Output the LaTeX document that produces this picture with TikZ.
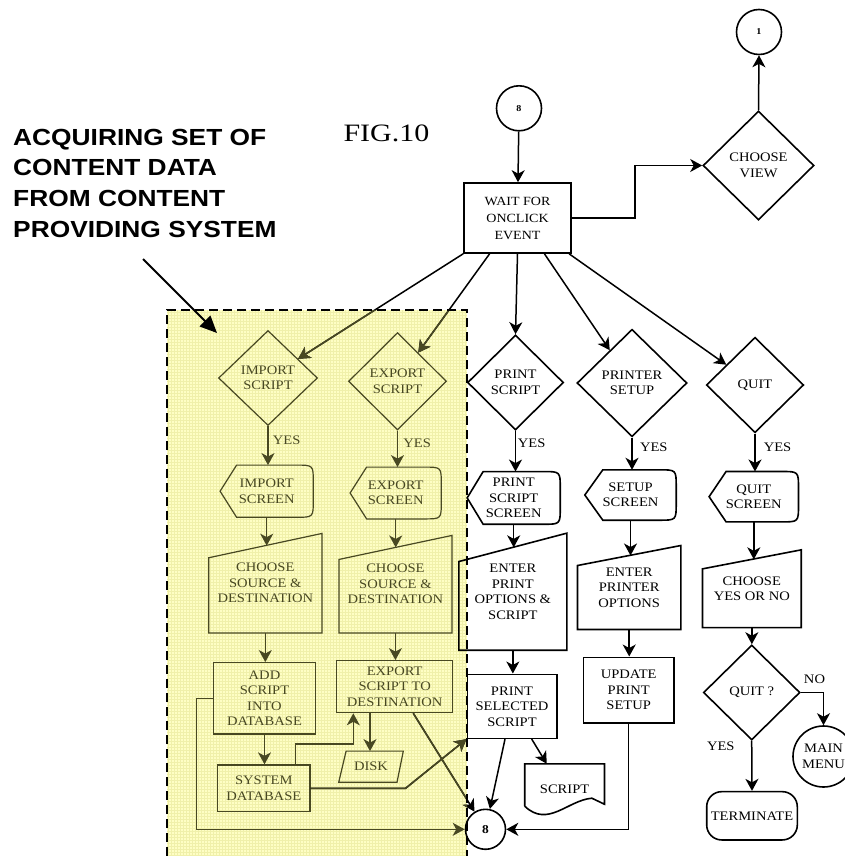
\documentclass[tikz,border=0pt]{standalone}
\usepackage{fontspec}
\setmainfont{Liberation Serif}
\newfontfamily\dgfont[FakeStretch=1.12]{Liberation Serif}
\newfontfamily\headfont[FakeStretch=1.13]{Liberation Sans}
\newfontfamily\figfont[FakeStretch=1.2]{Liberation Serif}
\usetikzlibrary{shapes.geometric,arrows.meta,calc}
\definecolor{oliv}{RGB}{72,72,34}
\definecolor{yfill}{RGB}{254,254,196}
\definecolor{ygrid}{RGB}{240,240,170}
\newcommand{\dispshape}[3]{\draw[shp,#1] (#2.west) -- ($(#2.north west)+(#3,0)$) -- ($(#2.north east)+(-17,0)$) .. controls (#2.north east) .. ($(#2.north east)+(0,17)$) -- ($(#2.south east)+(0,-17)$) .. controls (#2.south east) .. ($(#2.south east)+(-17,0)$) -- ($(#2.south west)+(#3,0)$) -- cycle;}
\newcommand{\manshape}[3]{\draw[shp,#1] (#2.south west) -- ($(#2.north west)+(0,#3)$) -- (#2.north east) -- (#2.south east) -- cycle;}
\tikzset{
  txt/.style={inner sep=0pt, align=center, font=\dgfont\fontsize{13}{15.5}\selectfont},
  shp/.style={line width=1.6pt},
  bx/.style={txt, draw, rectangle, shp},
  dia/.style={txt, draw, diamond, aspect=1, shp},
  circ/.style={txt, draw, circle, shp},
  con/.style={line width=1.5pt, -{Stealth[length=12pt,width=13pt,inset=3.5pt]}},
  olv/.style={color=oliv, text=oliv, line width=1.2pt},
  head/.style={anchor=base west, inner sep=0pt, font=\headfont\bfseries\fontsize{23.3}{28}\selectfont},
}
\begin{document}
\begin{tikzpicture}[x=1pt,y=-1pt]
\useasboundingbox (0,0) rectangle (845,856);
% yellow highlighted region
\fill[yfill] (167,310) rectangle (467,870);
\draw[ygrid, line width=0.3pt, step=3pt] (167,310) grid (467,870);

% heading and figure title
\node[head] (h1) at (13,145) {ACQUIRING SET OF};
\node[head] (h2) at (13,175.7) {CONTENT DATA};
\node[head] (h3) at (13,206.4) {FROM CONTENT};
\node[head] (h4) at (13,237) {PROVIDING SYSTEM};
\node[anchor=base west, inner sep=0pt, font=\figfont\fontsize{25}{30}\selectfont] (fig) at (343.3,141.7) {FIG.10};
\coordinate (ha) at (143,259);
\coordinate (hb) at (217,333);
\draw[line width=1.8pt, -{Triangle[length=17pt,width=15pt]}] (ha) -- (hb);

% top part
\node[circ, minimum size=45pt, font=\dgfont\bfseries\fontsize{9}{10}\selectfont] (c1) at (759,32) {1};
\node[circ, minimum size=45pt, font=\dgfont\bfseries\fontsize{9}{10}\selectfont] (c8t) at (519,108.3) {8};
\node[bx, minimum width=107pt, minimum height=70pt, font=\dgfont\fontsize{12.5}{17}\selectfont] (wait) at (517.5,218) {WAIT FOR\\ONCLICK\\EVENT};
\node[dia, minimum width=111pt, minimum height=109pt] (view) at (758.5,165.5) {CHOOSE\\VIEW};

% yellow region nodes
\node[dia, olv, minimum width=99pt, minimum height=95pt] (imp) at (268,378) {IMPORT\\SCRIPT};
\node[dia, olv, minimum width=98pt, minimum height=97.4pt] (exp) at (397.5,381.3) {EXPORT\\SCRIPT};
\node[txt, olv, minimum width=92pt, minimum height=51pt] (iscr) at (266.7,491.2) {IMPORT\\SCREEN};
\dispshape{olv}{iscr}{16.5}
\node[txt, olv, minimum width=90pt, minimum height=50.6pt] (escr) at (395.7,493) {EXPORT\\SCREEN};
\dispshape{olv}{escr}{16.5}
\node[txt, olv, minimum width=112pt, minimum height=98.3pt] (ich) at (265.3,583.2) {CHOOSE\\SOURCE \&\\DESTINATION};
\manshape{olv}{ich}{24.3}
\node[txt, olv, minimum width=111.8pt, minimum height=96.3pt] (ech) at (395.4,584.2) {CHOOSE\\SOURCE \&\\DESTINATION};
\manshape{olv}{ech}{24}
\node[bx, olv, minimum width=102.4pt, minimum height=71.3pt] (add) at (264.5,698.3) {ADD\\SCRIPT\\INTO\\DATABASE};
\node[bx, olv, minimum width=92.3pt, minimum height=46.7pt] (sdb) at (263.8,788.3) {SYSTEM\\DATABASE};
\node[bx, olv, minimum width=116pt, minimum height=52pt] (ets) at (394.7,686.7) {EXPORT\\SCRIPT TO\\DESTINATION};
\node[txt, olv, minimum width=63.4pt, minimum height=30pt] (disk) at (371,766.7) {DISK};
\draw[shp, olv] (disk.south west) -- ($(disk.north west)+(7.4,0)$) -- (disk.north east) -- ($(disk.south east)+(-6.3,0)$) -- cycle;
\node[txt, olv] (y1) at (286.7,440.5) {YES};
\node[txt, olv] (y2) at (417.2,443.5) {YES};

% black nodes
\node[dia, minimum width=96pt, minimum height=95pt] (pr) at (515.5,382.5) {PRINT\\SCRIPT};
\node[dia, minimum width=110pt, minimum height=107.4pt] (ps) at (632,383) {PRINTER\\SETUP};
\node[dia, minimum width=97.4pt, minimum height=95.4pt] (quit) at (755,385) {QUIT};
\node[txt, minimum width=92.7pt, minimum height=52.3pt] (prs) at (513.7,497.9) {PRINT\\SCRIPT\\SCREEN};
\dispshape{black}{prs}{16}
\node[txt, minimum width=91pt, minimum height=50pt] (sus) at (630.5,495) {SETUP\\SCREEN};
\dispshape{black}{sus}{18}
\node[txt, minimum width=89pt, minimum height=50pt] (qs) at (753.8,496.7) {QUIT\\SCREEN};
\dispshape{black}{qs}{17}
\node[txt, minimum width=107.7pt, minimum height=116.7pt] (epo) at (512.85,591.7) {ENTER\\PRINT\\OPTIONS \&\\SCRIPT};
\manshape{black}{epo}{28.4}
\node[txt, minimum width=103pt, minimum height=83.6pt] (epr) at (629.2,587.5) {ENTER\\PRINTER\\OPTIONS};
\manshape{black}{epr}{20}
\node[txt, minimum width=98.3pt, minimum height=77.3pt] (cyn) at (751.85,588.7) {CHOOSE\\YES OR NO};
\manshape{black}{cyn}{19}
\node[bx, minimum width=89.4pt, minimum height=64pt] (pss) at (512,706.3) {PRINT\\SELECTED\\SCRIPT};
\node[bx, minimum width=90.7pt, minimum height=65.4pt] (ups) at (628.7,690) {UPDATE\\PRINT\\SETUP};
\node[txt, minimum width=79.3pt, minimum height=42pt, text height=16pt, text depth=0pt] (scr) at (564.6,785) {SCRIPT};
\draw[shp] (scr.south west) -- (scr.north west) -- (scr.north east) -- ($(scr.south east)+(0,-2)$) -- ($(scr.south east)+(-12.6,-8)$) .. controls ($(scr.south west)+(43,-6)$) and ($(scr.south west)+(23,22)$) .. (scr.south west);
\node[dia, minimum width=96.6pt, minimum height=95pt] (qq) at (751.7,692.5) {QUIT ?};
\node[bx, rounded corners=15pt, minimum width=90.6pt, minimum height=48.3pt] (term) at (752,815.8) {TERMINATE};
\node[circ, minimum size=61pt] (mm) at (823.5,756.5) {MAIN\\MENU};
\node[circ, minimum size=40pt, font=\dgfont\bfseries\fontsize{12}{13}\selectfont] (c8b) at (485.5,829.3) {8};
\node[txt] (y3) at (531.7,443.7) {YES};
\node[txt] (y4) at (653.8,447.5) {YES};
\node[txt] (y5) at (777.5,447.3) {YES};
\node[txt] (y6) at (720.8,746.7) {YES};
\node[txt] (no1) at (814.5,679.2) {NO};

% named points for connectors
\coordinate (w2) at ($(wait.south west)!0.243!(wait.south east)$);
\coordinate (w4) at ($(wait.south west)!0.748!(wait.south east)$);
\coordinate (w5) at ($(wait.south west)!0.975!(wait.south east)$);
\coordinate (etsd) at ($(ets.south)+(-24.7,0)$);
\coordinate (etsu) at ($(ets.south)+(-41.4,0)$);
\coordinate (etsr) at ($(ets.south)+(18.6,0)$);
\coordinate (sdbu) at ($(sdb.north)+(32,0)$);
\coordinate (pssl) at ($(pss.south)+(-7,0)$);
\coordinate (pssr) at ($(pss.south)+(19.7,0)$);

% black connectors
\draw[con] (c8t) -- (wait);
\draw[con] (wait.east) -- ++(63,0) |- (view.west);
\draw[con] (view.north) -- (c1.south);
\draw[con] (wait.south west) -- (imp);
\draw[con] (w2) -- (exp);
\draw[con] (wait.south) -- (pr.north);
\draw[con] (w4) -- (ps);
\draw[con] (w5) -- (quit);
\draw[con] (pr.south) -- (pr.south |- prs.north);
\draw[con] (prs.south) -- ($(prs.south |- epo.north)+(0,14.2)$);
\draw[con] (epo.south) -- (epo.south |- pss.north);
\draw[con] (pssl) -- (c8b);
\draw[con] (pssr) -- ($(scr.north west)+(22,0)$);
\draw[con] (ps.south) -- (ps.south |- sus.north);
\draw[con] (sus.south) -- ($(sus.south |- epr.north)+(0,10)$);
\draw[con] (epr.south) -- (epr.south |- ups.north);
\draw[con] (ups.south) |- (c8b.east);
\draw[con] (quit.south) -- (quit.south |- qs.north);
\draw[con] (qs.south) -- ($(qs.south |- cyn.north)+(0,9.5)$);
\draw[con] (cyn.south) -- (cyn.south |- qq.north);
\draw[con] (qq.east) -| (mm.north);
\draw[con] (qq.south) -- (term.north);
\draw[con] (sdb.east) -- ++(95,0) -- (pss.south west);
\draw[con] (etsr) -- (c8b);

% olive parts inside the highlighted region
\begin{scope}
\clip (167,310) rectangle (467,870);
\draw[con, olv, line width=1.5pt] (wait.south west) -- (imp);
\draw[con, olv, line width=1.5pt] (w2) -- (exp);
\draw[con, olv, line width=1.5pt] (sdb.east) -- ++(95,0) -- (pss.south west);
\draw[con, olv, line width=1.5pt] (etsr) -- (c8b);
\end{scope}
\draw[con, olv] (imp.south) -- (imp.south |- iscr.north);
\draw[con, olv] (iscr.south) -- ($(iscr.south |- ich.north)+(0,12.2)$);
\draw[con, olv] (ich.south) -- (ich.south |- add.north);
\draw[con, olv] (add.south) -- (add.south |- sdb.north);
\draw[con, olv] (exp.south) -- (exp.south |- escr.north);
\draw[con, olv] (escr.south) -- ($(escr.south |- ech.north)+(0,12)$);
\draw[con, olv] (ech.south) -- (ech.south |- ets.north);
\draw[con, olv] (etsd) -- (etsd |- disk.north);
\draw[con, olv] (sdbu) |- ($(etsu)+(0,30.6)$) -- (etsu);
\draw[con, olv] (add.west) -- ++(-16,0) |- (c8b.west);

% dashed frame
\draw[line width=1.6pt, dash pattern=on 9pt off 5pt] (167,870) -- (167,310) -- (467,310) -- (467,870);
\end{tikzpicture}
\end{document}
